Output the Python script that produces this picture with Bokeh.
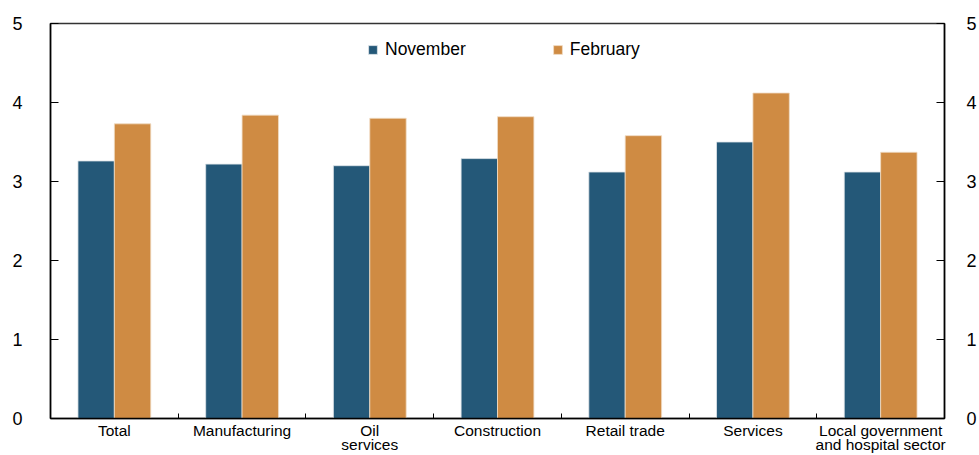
from bokeh.plotting import figure
from bokeh.models import (Range1d, LinearAxis, FixedTicker, Legend, LegendItem,
                          ColumnDataSource)
from bokeh.embed import file_html
from bokeh.resources import INLINE

categories = ["Total", "Manufacturing", "Oil\nservices", "Construction",
              "Retail trade", "Services", "Local government\nand hospital sector"]
november = [3.26, 3.22, 3.20, 3.29, 3.12, 3.50, 3.12]
february = [3.73, 3.84, 3.80, 3.82, 3.58, 4.12, 3.37]
y_ticks = [0, 1, 2, 3, 4, 5]
series_names = ["November", "February"]
colors = ["#245878", "#cf8b43"]

FONT = "Liberation Sans"
n = len(categories)
centers = [i + 0.5 for i in range(n)]
bar_w = 0.285
off = 0.1425

p = figure(width=979, height=455, output_backend="svg", toolbar_location=None,
           x_range=Range1d(0, n), y_range=Range1d(0, 5),
           min_border_left=50, min_border_right=34, min_border_top=23,
           min_border_bottom=35)
p.xgrid.visible = False
p.ygrid.visible = False
p.outline_line_color = "#333333"
p.outline_line_width = 1.5
p.background_fill_color = "white"
p.border_fill_color = "white"

src = ColumnDataSource(dict(
    xn=[c - off for c in centers], xf=[c + off for c in centers],
    nov=november, feb=february))
r1 = p.vbar(x="xn", top="nov", width=bar_w, source=src, fill_color=colors[0],
            line_color="#dfe6ea", line_width=0.8)
r2 = p.vbar(x="xf", top="feb", width=bar_w, source=src, fill_color=colors[1],
            line_color="#f0dcc4", line_width=0.8)

# x axis
xa = p.xaxis[0]
xa.ticker = FixedTicker(ticks=centers, minor_ticks=[i for i in range(1, n)])
xa.major_label_overrides = {c: lab for c, lab in zip(centers, categories)}
xa.major_tick_in = 0
xa.major_tick_out = 0
xa.minor_tick_in = 5
xa.minor_tick_out = 0
xa.minor_tick_line_color = "black"
xa.axis_line_color = "black"
xa.axis_line_width = 1.5
xa.major_label_standoff = 3
xa.major_label_text_font = FONT
xa.major_label_text_font_size = "15.5px"
xa.major_label_text_color = "black"
xa.major_label_text_line_height = 0.85

def style_y(ax):
    ax.ticker = FixedTicker(ticks=y_ticks)
    ax.major_tick_in = 8
    ax.major_tick_out = 0
    ax.minor_tick_in = 0
    ax.minor_tick_out = 0
    ax.axis_line_color = "black"
    ax.axis_line_width = 1.5
    ax.major_tick_line_color = "black"
    ax.major_label_text_font = FONT
    ax.major_label_text_font_size = "18px"
    ax.major_label_text_color = "black"

ya = p.yaxis[0]
style_y(ya)
ya.major_label_standoff = 28

ra = LinearAxis()
style_y(ra)
ra.major_label_standoff = 22
p.add_layout(ra, "right")

legend = Legend(items=[LegendItem(label=series_names[0], renderers=[r1]),
                       LegendItem(label=series_names[1], renderers=[r2])],
                orientation="horizontal", location=(317, 358),
                glyph_width=11, glyph_height=11, label_standoff=7,
                spacing=86, padding=0, margin=0,
                label_text_font=FONT, label_text_font_size="17.5px",
                label_text_color="black", border_line_color=None,
                background_fill_alpha=0, label_height=20)
p.add_layout(legend, "center")

open("out.html", "w").write(file_html(p, INLINE))
